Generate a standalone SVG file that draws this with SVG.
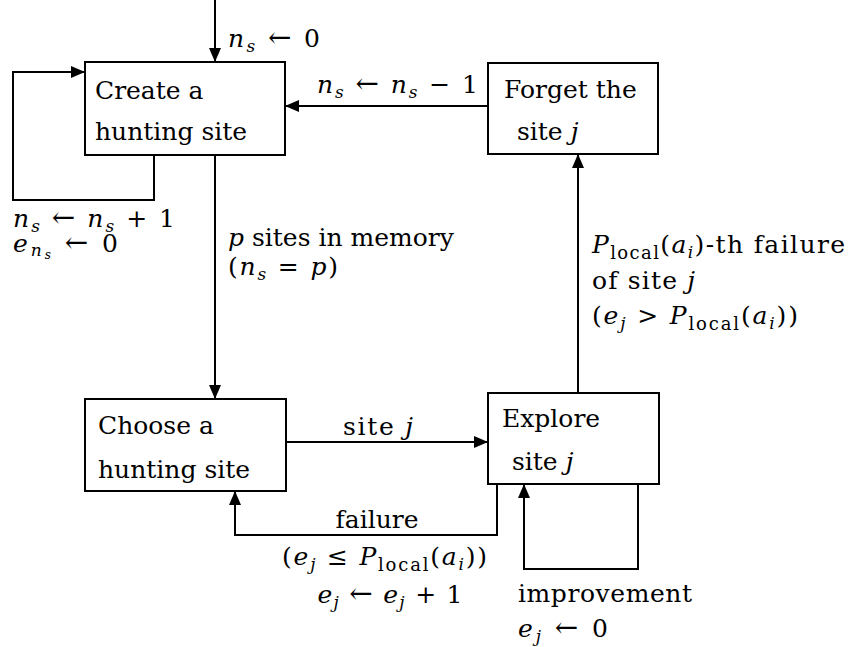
<svg xmlns="http://www.w3.org/2000/svg" width="848" height="647" viewBox="0 0 848 647">
<style>
text{font-family:"DejaVu Serif","Liberation Serif",serif;font-size:25px;fill:#000}
.i{font-style:italic}
.s{font-size:17px}
.l{font-size:18px}
.ar{font-size:28px}
.box{fill:#fff;stroke:#000;stroke-width:2}
.ln{fill:none;stroke:#000;stroke-width:2}
</style>
<defs>
<marker id="ah" markerUnits="userSpaceOnUse" markerWidth="14" markerHeight="12" refX="13" refY="6" orient="auto">
<path d="M0,0 L14,6 L0,12 Z" fill="#000"/>
</marker>
</defs>
<g id="connectors">
<path class="ln" d="M215,0 V61" marker-end="url(#ah)"/>
<path class="ln" d="M154,155 V200 H13 V72 H84" marker-end="url(#ah)"/>
<path class="ln" d="M488,106 H286" marker-end="url(#ah)"/>
<path class="ln" d="M215,155 V398" marker-end="url(#ah)"/>
<path class="ln" d="M286,442 H487" marker-end="url(#ah)"/>
<path class="ln" d="M578,393 V155" marker-end="url(#ah)"/>
<path class="ln" d="M497,484 V535 H235 V492" marker-end="url(#ah)"/>
<path class="ln" d="M638,484 V569 H524 V485" marker-end="url(#ah)"/>
</g>
<g id="labels">
<text x="228" y="47" textLength="92" lengthAdjust="spacing"><tspan class="i">n</tspan><tspan class="s i" dy="5">s</tspan><tspan dy="-5"> </tspan><tspan class="ar">←</tspan> 0</text>
<text x="317" y="93" textLength="161" lengthAdjust="spacing"><tspan class="i">n</tspan><tspan class="s i" dy="5">s</tspan><tspan dy="-5"> </tspan><tspan class="ar">←</tspan> <tspan class="i">n</tspan><tspan class="s i" dy="5">s</tspan><tspan dy="-5"> − 1</tspan></text>
<text x="13" y="227" textLength="162" lengthAdjust="spacing"><tspan class="i">n</tspan><tspan class="s i" dy="5">s</tspan><tspan dy="-5"> </tspan><tspan class="ar">←</tspan> <tspan class="i">n</tspan><tspan class="s i" dy="5">s</tspan><tspan dy="-5"> + 1</tspan></text>
<text x="13" y="252" textLength="105" lengthAdjust="spacing"><tspan class="i">e</tspan><tspan class="s i" dy="4">n</tspan><tspan class="i" style="font-size:12px" dy="3">s</tspan><tspan dy="-7"> </tspan><tspan class="ar">←</tspan> 0</text>
<text x="228" y="246"><tspan class="i">p</tspan> sites in memory</text>
<text x="228" y="275" textLength="110" lengthAdjust="spacing">(<tspan class="i">n</tspan><tspan class="s i" dy="5">s</tspan><tspan dy="-5"> = </tspan><tspan class="i">p</tspan>)</text>
<text x="592" y="253" textLength="253" lengthAdjust="spacing"><tspan class="i">P</tspan><tspan class="l" dy="6">local</tspan><tspan dy="-6">(</tspan><tspan class="i">a</tspan><tspan class="s i" dy="5">i</tspan><tspan dy="-5">)-th failure</tspan></text>
<text x="592" y="289" textLength="103" lengthAdjust="spacing">of site <tspan class="i">j</tspan></text>
<text x="592" y="324" textLength="206" lengthAdjust="spacing">(<tspan class="i">e</tspan><tspan class="s i" dy="5">j</tspan><tspan dy="-5"> &gt; </tspan><tspan class="i">P</tspan><tspan class="l" dy="6">local</tspan><tspan dy="-6">(</tspan><tspan class="i">a</tspan><tspan class="s i" dy="5">i</tspan><tspan dy="-5">))</tspan></text>
<text x="378" y="435" text-anchor="middle" textLength="70" lengthAdjust="spacing">site <tspan class="i">j</tspan></text>
<text x="377" y="528" text-anchor="middle">failure</text>
<text x="384.5" y="565" text-anchor="middle" textLength="205" lengthAdjust="spacing">(<tspan class="i">e</tspan><tspan class="s i" dy="5">j</tspan><tspan dy="-5"> ≤ </tspan><tspan class="i">P</tspan><tspan class="l" dy="6">local</tspan><tspan dy="-6">(</tspan><tspan class="i">a</tspan><tspan class="s i" dy="5">i</tspan><tspan dy="-5">))</tspan></text>
<text x="390" y="603" text-anchor="middle" textLength="145" lengthAdjust="spacing"><tspan class="i">e</tspan><tspan class="s i" dy="5">j</tspan><tspan dy="-5"> </tspan><tspan class="ar">←</tspan> <tspan class="i">e</tspan><tspan class="s i" dy="5">j</tspan><tspan dy="-5"> + 1</tspan></text>
<text x="518" y="602" textLength="174" lengthAdjust="spacing">improvement</text>
<text x="518" y="637" textLength="90" lengthAdjust="spacing"><tspan class="i">e</tspan><tspan class="s i" dy="5">j</tspan><tspan dy="-5"> </tspan><tspan class="ar">←</tspan> 0</text>
</g>
<g id="create">
<rect class="box" x="85" y="62" width="200" height="93"/>
<text x="95" y="99">Create a</text>
<text x="95" y="140">hunting site</text>
</g>
<g id="forget">
<rect class="box" x="488" y="63" width="170" height="91"/>
<text x="504" y="98">Forget the</text>
<text x="517" y="140">site <tspan class="i">j</tspan></text>
</g>
<g id="choose">
<rect class="box" x="85" y="399" width="201" height="92"/>
<text x="98" y="434">Choose a</text>
<text x="98" y="478">hunting site</text>
</g>
<g id="explore">
<rect class="box" x="488" y="393" width="171" height="91"/>
<text x="502" y="427">Explore</text>
<text x="512" y="470">site <tspan class="i">j</tspan></text>
</g>
</svg>
